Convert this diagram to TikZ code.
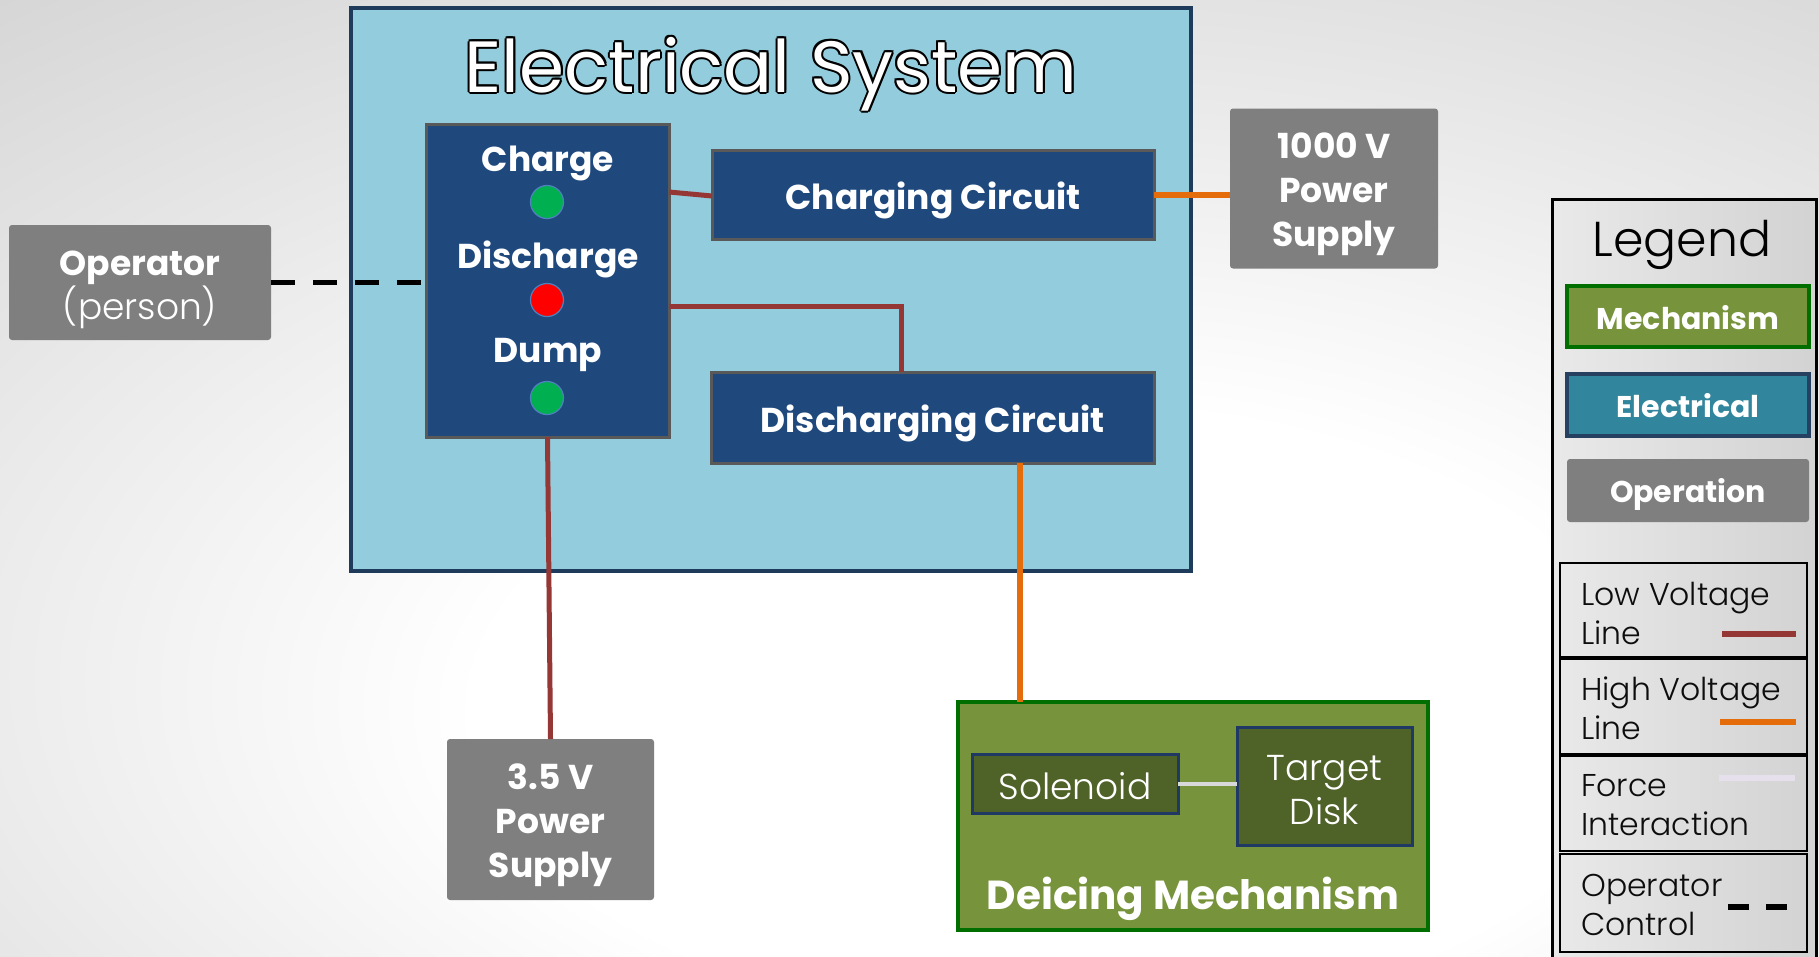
\documentclass[tikz,border=0pt]{standalone}
\usepackage{fontspec}
\setmainfont{Poppins}
\newfontfamily\lightf{Poppins Light}
\usetikzlibrary{calc}
\definecolor{elecfill}{HTML}{93CDDD}
\definecolor{elecdraw}{HTML}{1F3B5C}
\definecolor{panelfill}{HTML}{1F497D}
\definecolor{paneldraw}{HTML}{595959}
\definecolor{opgray}{HTML}{7F7F7F}
\definecolor{lvred}{HTML}{953735}
\definecolor{hvorange}{HTML}{E46C0A}
\definecolor{mechfill}{HTML}{77933C}
\definecolor{mechdraw}{HTML}{006F00}
\definecolor{subfill}{HTML}{4F6228}
\definecolor{subdraw}{HTML}{1F3864}
\definecolor{legelec}{HTML}{31859C}
\definecolor{legelecdraw}{HTML}{254061}
\definecolor{ledgreen}{HTML}{00B050}
\definecolor{ledred}{HTML}{FF0000}
\definecolor{ledrim}{HTML}{4F81BD}
\definecolor{forcecol}{HTML}{E6E0EC}
\definecolor{forcecolb}{HTML}{D9D9D9}
\pgfdeclareradialshading{bgshade}{\pgfpoint{5bp}{-15bp}}{color(0bp)=(white); color(16bp)=(white); color(58bp)=(black!25); color(90bp)=(black!30)}
\pgfdeclarehorizontalshading{legshade}{100bp}{color(0bp)=(white!96!black); color(100bp)=(black!22)}
\newcommand{\outlinedtext}[1]{\leavevmode
  \rlap{\hspace{-2pt}\textcolor{black}{#1}}%
  \rlap{\hspace{2pt}\textcolor{black}{#1}}%
  \rlap{\raisebox{2pt}{\textcolor{black}{#1}}}%
  \rlap{\raisebox{-2pt}{\textcolor{black}{#1}}}%
  \rlap{\hspace{-1.5pt}\raisebox{1.5pt}{\textcolor{black}{#1}}}%
  \rlap{\hspace{1.5pt}\raisebox{1.5pt}{\textcolor{black}{#1}}}%
  \rlap{\hspace{-1.5pt}\raisebox{-1.5pt}{\textcolor{black}{#1}}}%
  \rlap{\hspace{1.5pt}\raisebox{-1.5pt}{\textcolor{black}{#1}}}%
  \textcolor{white}{#1}}
\begin{document}
\begin{tikzpicture}[x=1pt,y=-1pt,
  box/.style={rectangle, inner sep=0pt, outer sep=0pt},
  elecbox/.style={box, fill=elecfill, draw=elecdraw, line width=4pt},
  panelbox/.style={box, fill=panelfill, draw=paneldraw, line width=3pt},
  opbox/.style={box, fill=opgray, rounded corners=3pt},
  mechbox/.style={box, fill=mechfill, draw=mechdraw, line width=4.5pt},
  subbox/.style={box, fill=subfill, draw=subdraw, line width=3pt},
  legelecbox/.style={box, fill=legelec, draw=legelecdraw, line width=4pt},
  entrybox/.style={box, draw=black, line width=1.5pt},
  bt/.style={inner sep=0pt, text=white, align=center, font=\bfseries\fontsize{34.5}{44}\selectfont},
  lt/.style={inner sep=0pt, text=white, align=center, font=\lightf\fontsize{36}{44}\selectfont},
  legt/.style={inner sep=0pt, text=black!95, align=left, anchor=west, font=\lightf\fontsize{31.5}{39}\selectfont},
  led/.style={circle, inner sep=0pt, minimum size=33pt, draw=ledrim, line width=1.2pt},
  titlef/.style={inner sep=0pt, font=\fontsize{72.5}{80}\selectfont},
  lvline/.style={draw=lvred, line width=5pt},
  hvline/.style={draw=hvorange, line width=6pt},
  forceline/.style={draw=forcecolb, line width=4pt},
  opline/.style={draw=black, line width=5pt, dash pattern=on 24pt off 18pt}
]
\useasboundingbox (0,0) rectangle (1819,956);
\shade[shading=bgshade] (0,0) rectangle (1819,956);

% Electrical system
\node[elecbox, minimum width=840pt, minimum height=563pt] (elec) at (771,289.5) {};
\node[titlef] (title) at (771,74) {\outlinedtext{Electrical System}};

% control panel
\node[panelbox, minimum width=243pt, minimum height=313pt] (panel) at (547.5,280.5) {};
\node[bt] (tcharge) at (548,163) {Charge};
\node[led, fill=ledgreen] (led1) at (547,202) {};
\node[bt] (tdis) at (548,259) {Discharge};
\node[led, fill=ledred] (led2) at (547,300) {};
\node[bt] (tdump) at (548,355) {Dump};
\node[led, fill=ledgreen] (led3) at (547,398) {};

% circuits
\node[panelbox, minimum width=442pt, minimum height=89pt] (chg) at (933,194.5) {};
\node[bt] (tchg) at (933,200.5) {Charging Circuit};
\node[panelbox, minimum width=443pt, minimum height=91pt] (dis) at (932.5,417.5) {};
\node[bt] (tdisc) at (932.5,423.5) {Discharging Circuit};

% operation boxes
\node[opbox, minimum width=208pt, minimum height=160pt] (ps1000) at (1334,188.5) {};
\node[bt] (tps1000) at (1334,194) {1000 V\\Power\\Supply};
\node[opbox, minimum width=262pt, minimum height=115pt] (oper) at (140,282.5) {};
\node[bt, font=\fontsize{34.5}{42}\selectfont] (toper) at (140,290) {\textbf{Operator}\\{\lightf\fontsize{36}{42}\selectfont (person)}};
\node[opbox, minimum width=207pt, minimum height=161pt] (ps35) at (550.5,819.5) {};
\node[bt] (tps35) at (550.5,825) {3.5 V\\Power\\Supply};

% deicing mechanism
\node[mechbox, minimum width=470pt, minimum height=228pt] (deice) at (1193,816) {};
\node[subbox, minimum width=206pt, minimum height=59pt] (sol) at (1075,783.5) {};
\node[lt] (tsol) at (1075,786) {Solenoid};
\node[subbox, minimum width=175pt, minimum height=118pt] (td) at (1324.5,786) {};
\node[lt] (ttd) at (1324.5,790) {Target\\Disk};
\node[bt, font=\bfseries\fontsize{40.5}{46}\selectfont] (tdeice) at (1193,899) {Deicing Mechanism};

% connectors
\draw[lvline] ([yshift=-68pt]panel.north east) -- ([yshift=-1.5pt]chg.west);
\draw[lvline] ([yshift=-182pt]panel.north east) -| ([xshift=-31.5pt]dis.north);
\draw[lvline] (panel.south) -- (ps35.north);
\draw[hvline] (chg.east) -- (chg.east -| ps1000.west);
\coordinate (hvs) at ([xshift=87.5pt]dis.south);
\draw[hvline] (hvs) -- (hvs |- deice.north);
\draw[forceline] (sol.east) -- (sol.east -| td.west);
\draw[opline] (oper.east |- 0,282) -- (panel.west |- 0,282);

% legend
\node[box, shading=legshade, draw=black, line width=3pt, minimum width=264pt, minimum height=763pt] (legend) at (1684,580.5) {};
\node[inner sep=0pt, text=black, font=\lightf\fontsize{49}{52}\selectfont] (tlegend) at (1682,245) {Legend};
\node[mechbox, minimum width=242pt, minimum height=61pt] (lmech) at (1688,316.5) {};
\node[bt, font=\bfseries\fontsize{30}{36}\selectfont] (tlmech) at (1688,318) {Mechanism};
\node[legelecbox, minimum width=242pt, minimum height=62pt] (lelec) at (1688,405) {};
\node[bt, font=\bfseries\fontsize{30}{36}\selectfont] (tlelec) at (1688,406) {Electrical};
\node[opbox, minimum width=242pt, minimum height=63pt] (lop) at (1688,490.5) {};
\node[bt, font=\bfseries\fontsize{30}{36}\selectfont] (tlop) at (1688,494) {Operation};

\node[entrybox, minimum width=247pt, minimum height=94pt] (elv) at (1683.5,610) {};
\node[legt] (telv) at (1581,613) {Low Voltage\\Line};
\coordinate (lva) at (1722,634); \coordinate (lvb) at (1796,634);
\draw[lvline, line width=6pt] (lva) -- (lvb);

\node[entrybox, minimum width=247pt, minimum height=95pt] (ehv) at (1683.5,706.5) {};
\node[legt] (tehv) at (1581,708) {High Voltage\\Line};
\coordinate (hva) at (1720,722); \coordinate (hvb) at (1796,722);
\draw[hvline] (hva) -- (hvb);

\node[entrybox, minimum width=247pt, minimum height=95pt] (efi) at (1683.5,803.5) {};
\node[legt] (tefi) at (1581,805) {Force\\Interaction};
\coordinate (fia) at (1719,778); \coordinate (fib) at (1795,778);
\draw[draw=forcecol, line width=6pt] (fia) -- (fib);

\node[entrybox, minimum width=247pt, minimum height=98pt] (eoc) at (1683.5,903) {};
\node[legt] (teoc) at (1581,905) {Operator\\Control};
\coordinate (oca) at (1728,907); \coordinate (ocb) at (1749,907);
\coordinate (occ) at (1766,907); \coordinate (ocd) at (1787,907);
\draw[draw=black, line width=6pt] (oca) -- (ocb);
\draw[draw=black, line width=6pt] (occ) -- (ocd);
\end{tikzpicture}
\end{document}
